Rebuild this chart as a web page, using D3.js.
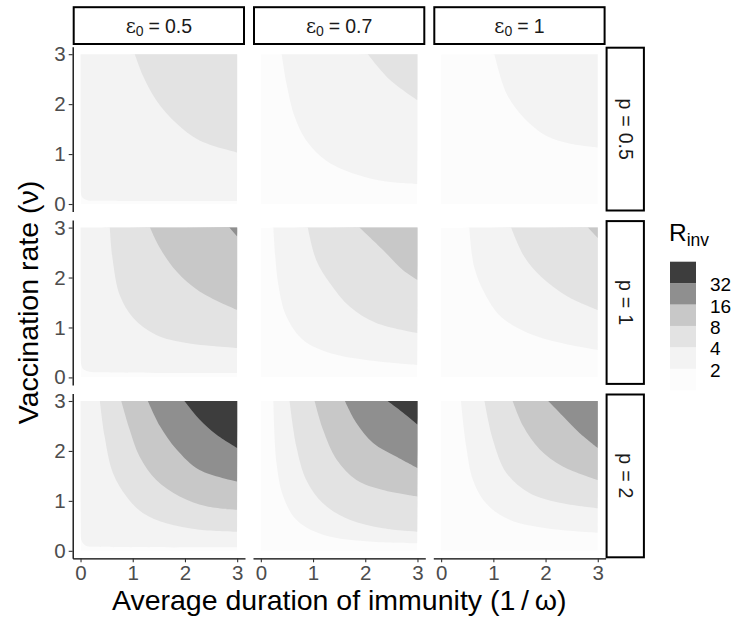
<!DOCTYPE html>
<html><head><meta charset="utf-8">
<script src="https://cdn.jsdelivr.net/npm/d3@7"></script>
<style>
html,body{margin:0;padding:0;background:#fff;}
text{font-family:"Liberation Sans",Arial,Helvetica,sans-serif;}
</style></head>
<body><svg id="chart" width="736" height="624"></svg>
<script>
// ---- data ----
const levels = [2, 4, 8, 16, 32];
const bandColors = ["#fcfcfc", "#f3f3f3", "#e3e3e3", "#c8c8c8", "#8f8f8f", "#3d3d3d"];
const epsLabels = ["0.5", "0.7", "1"];
const pLabels = ["0.5", "1", "2"];
const xTicks = [0, 1, 2, 3];
const yTicks = [0, 1, 2, 3];
const xDomain = [0, 3];
const yDomain = [0, 3];

// contour boundaries: [level, [[x, y], ...]]
const c_p05_e05 = [
  [2, [[0,0.28],[0.03,0.14],[0.12,0.08],[0.5,0.065],[3,0.06]]],
  [4, [[1.04,3],[1.2,2.56],[1.45,2.08],[1.84,1.61],[2.28,1.27],[3,1.03]]]
];
const c_p05_e07 = [
  [2, [[0.40,3],[0.49,2.42],[0.65,1.74],[0.87,1.27],[1.26,0.86],[1.83,0.59],[2.40,0.45],[3,0.40]]],
  [4, [[2.05,3],[2.47,2.49],[3,2.08]]]
];
const c_p05_e1 = [
  [2, [[1.02,3],[1.25,2.22],[1.57,1.74],[2.02,1.36],[2.46,1.21],[3,1.13]]]
];
const c_p1_e05 = [
  [2, [[0,0.35],[0.04,0.18],[0.15,0.12],[0.6,0.1],[3,0.09]]],
  [4, [[0.56,3],[0.62,2.32],[0.75,1.65],[1.01,1.19],[1.45,0.85],[2.03,0.69],[3,0.59]]],
  [8, [[1.33,3],[1.52,2.59],[1.84,2.12],[2.28,1.72],[3,1.35]]],
  [16, [[2.85,3],[3,2.82]]]
];
const c_p1_e07 = [
  [2, [[0.24,3],[0.33,1.89],[0.49,1.22],[0.81,0.75],[1.32,0.49],[2.02,0.35],[3,0.25]]],
  [4, [[0.90,3],[1.06,2.35],[1.32,1.89],[1.70,1.42],[2.21,1.09],[3,0.89]]],
  [8, [[1.89,3],[2.34,2.55],[2.72,2.15],[3,1.95]]]
];
const c_p1_e1 = [
  [2, [[0.54,3],[0.63,2.22],[0.83,1.69],[1.14,1.22],[1.66,0.89],[2.30,0.69],[3,0.55]]],
  [4, [[1.34,3],[1.59,2.42],[1.91,2.02],[2.42,1.62],[3,1.35]]],
  [8, [[2.81,3],[3,2.79]]]
];
const c_p2_e05 = [
  [2, [[0,0.3],[0.02,0.2],[0.1,0.1],[0.3,0.08],[3,0.07]]],
  [4, [[0.37,3],[0.46,2.30],[0.62,1.56],[0.88,1.09],[1.20,0.75],[1.64,0.55],[2.28,0.42],[3,0.38]]],
  [8, [[0.78,3],[0.94,2.43],[1.13,1.89],[1.45,1.42],[1.90,1.09],[2.41,0.89],[3,0.82]]],
  [16, [[1.29,3],[1.52,2.50],[1.84,2.03],[2.28,1.62],[3,1.39]]],
  [32, [[1.99,3],[2.28,2.63],[2.60,2.33],[3,2.06]]]
];
const c_p2_e07 = [
  [2, [[0.24,3],[0.30,1.76],[0.43,1.09],[0.68,0.62],[1.19,0.32],[2.15,0.18],[3,0.15]]],
  [4, [[0.55,3],[0.68,2.09],[0.87,1.42],[1.19,0.95],[1.70,0.62],[2.34,0.45],[3,0.38]]],
  [8, [[1.03,3],[1.19,2.43],[1.45,1.83],[1.83,1.42],[2.34,1.22],[3,1.09]]],
  [16, [[1.61,3],[1.83,2.56],[2.15,2.16],[2.59,1.89],[3,1.66]]],
  [32, [[2.43,3],[2.72,2.77],[3,2.53]]]
];
const c_p2_e1 = [
  [2, [[0.38,3],[0.48,2.09],[0.61,1.42],[0.86,0.95],[1.31,0.62],[2.02,0.45],[3,0.36]]],
  [4, [[0.83,3],[0.99,2.23],[1.25,1.56],[1.69,1.16],[2.33,0.95],[3,0.85]]],
  [8, [[1.37,3],[1.57,2.50],[1.89,2.03],[2.33,1.69],[3,1.42]]],
  [16, [[2.05,3],[2.33,2.70],[2.65,2.36],[3,2.06]]]
];
const panelContours = [
  [c_p05_e05, c_p05_e07, c_p05_e1],
  [c_p1_e05, c_p1_e07, c_p1_e1],
  [c_p2_e05, c_p2_e07, c_p2_e1]
];

// ---- layout ----
const L = {left: 72.7, top: 46.7, W: 172.3, H: 164.8, gx: 8, gy: 8.6};
const svg = d3.select("#chart");
const ext = (d) => [d[0] - (d[1]-d[0])*0.05, d[1] + (d[1]-d[0])*0.05];
const FONT = "'Liberation Sans', Arial, sans-serif";

const colorOf = d3.scaleThreshold().domain(levels).range(bandColors);

pLabels.forEach((pl, r) => {
  epsLabels.forEach((el, c) => {
    const x0 = L.left + c*(L.W + L.gx);
    const y0 = L.top + r*(L.H + L.gy);
    const xs = d3.scaleLinear().domain(ext(xDomain)).range([x0, x0 + L.W]);
    const ys = d3.scaleLinear().domain(ext(yDomain)).range([y0 + L.H, y0]);
    const g = svg.append("g");
    const clipId = `clip${r}${c}`;
    svg.append("clipPath").attr("id", clipId).append("rect")
      .attr("x", xs(xDomain[0])).attr("y", ys(yDomain[1]))
      .attr("width", xs(xDomain[1]) - xs(xDomain[0]))
      .attr("height", ys(yDomain[0]) - ys(yDomain[1]));
    const pg = g.append("g").attr("clip-path", `url(#${clipId})`);
    pg.append("rect")
      .attr("x", xs(xDomain[0])).attr("y", ys(yDomain[1]))
      .attr("width", xs(xDomain[1]) - xs(xDomain[0]))
      .attr("height", ys(yDomain[0]) - ys(yDomain[1]))
      .attr("fill", colorOf(levels[0] - 1));
    const line = d3.line().x(d => xs(d[0])).y(d => ys(d[1])).curve(d3.curveCatmullRom.alpha(0.5));
    panelContours[r][c].forEach(([lev, pts]) => {
      const dpath = line(pts) + `L${xs(xDomain[1]) + 2},${ys(yDomain[1]) - 2}L${xs(xDomain[0]) - 2},${ys(yDomain[1]) - 2}Z`;
      pg.append("path").attr("d", dpath).attr("fill", colorOf(lev)).attr("stroke", "none");
    });

    // y axis on first column
    if (c === 0) {
      const ay = g.append("g").attr("transform", `translate(${x0},0)`)
        .call(d3.axisLeft(ys).tickValues(yTicks).tickFormat(d3.format("d")).tickSize(4).tickSizeOuter(0).tickPadding(3));
      ay.select(".domain").attr("stroke", "#000").attr("stroke-width", 1.3);
      ay.selectAll(".tick line").attr("stroke", "#333").attr("stroke-width", 1.1);
      ay.selectAll(".tick text").attr("fill", "#4d4d4d").attr("font-size", 20.5).style("font-family", FONT);
    }
    // x axis on last row
    if (r === pLabels.length - 1) {
      const ax = g.append("g").attr("transform", `translate(0,${y0 + L.H})`)
        .call(d3.axisBottom(xs).tickValues(xTicks).tickFormat(d3.format("d")).tickSize(4).tickSizeOuter(0).tickPadding(3));
      ax.select(".domain").attr("stroke", "#000").attr("stroke-width", 1.3);
      ax.selectAll(".tick line").attr("stroke", "#333").attr("stroke-width", 1.1);
      ax.selectAll(".tick text").attr("fill", "#4d4d4d").attr("font-size", 20.5).style("font-family", FONT);
    }
    // top strips
    if (r === 0) {
      svg.append("rect").attr("x", x0 + 1).attr("y", 7.2).attr("width", L.W - 2).attr("height", 36.8)
        .attr("fill", "#fff").attr("stroke", "#000").attr("stroke-width", 2);
      const t = svg.append("text").attr("x", x0 + L.W/2).attr("y", 25.6)
        .attr("text-anchor", "middle").attr("dominant-baseline", "central")
        .attr("font-size", 19.5).attr("fill", "#1a1a1a");
      t.append("tspan").text("ε").style("font-family", "'DejaVu Serif', serif").attr("font-size", 19.5);
      t.append("tspan").text("0").attr("font-size", 14).attr("dy", 5);
      t.append("tspan").text("=").attr("dy", -5).attr("dx", 5);
      t.append("tspan").text(el).attr("dx", 5);
    }
    // right strips
    if (c === epsLabels.length - 1) {
      const sx = x0 + L.W;
      svg.append("rect").attr("x", sx + 1).attr("y", y0 + 1).attr("width", 37.3).attr("height", L.H - 2)
        .attr("fill", "#fff").attr("stroke", "#000").attr("stroke-width", 2);
      const rt = svg.append("text").attr("transform", `translate(${sx + 20},${y0 + L.H/2}) rotate(90)`)
        .attr("text-anchor", "middle").attr("dominant-baseline", "central")
        .attr("font-size", 19.5).attr("fill", "#1a1a1a");
      rt.append("tspan").text("p");
      rt.append("tspan").text("=").attr("dx", 6);
      rt.append("tspan").text(pl).attr("dx", 6);
    }
  });
});

// axis titles
const gridW = 3*L.W + 2*L.gx, gridH = 3*L.H + 2*L.gy;
svg.append("text").attr("x", L.left + gridW/2).attr("y", 610)
  .attr("text-anchor", "middle").attr("font-size", 28.5).attr("fill", "#000")
  .text("Average duration of immunity (1\u2009/\u2009ω)");
svg.append("text").attr("transform", `translate(38,${L.top + gridH/2}) rotate(-90)`)
  .attr("text-anchor", "middle").attr("font-size", 28.5).attr("fill", "#000")
  .text("Vaccination rate (ν)");

// legend
const lg = svg.append("g");
const lt = lg.append("text").attr("x", 669).attr("y", 241).attr("font-size", 24.5).attr("fill", "#000");
lt.append("tspan").text("R");
lt.append("tspan").text("inv").attr("font-size", 17.5).attr("dy", 5);
const keyH = 21.4, keyTop = 261.7;
const legendColors = bandColors.slice().reverse();
const ly = d3.scaleLinear().domain([0, legendColors.length]).range([keyTop, keyTop + keyH*legendColors.length]);
lg.selectAll("rect.key").data(legendColors).enter().append("rect")
  .attr("x", 670).attr("y", (d, i) => ly(i)).attr("width", 26).attr("height", keyH + 0.3)
  .attr("fill", d => d);
const legendLabels = levels.slice().reverse();
lg.selectAll("text.lab").data(legendLabels).enter().append("text")
  .attr("x", 710).attr("y", (d, i) => ly(i + 1) + 1.5).attr("dominant-baseline", "central")
  .attr("font-size", 19).attr("fill", "#000").text(d => d);
</script></body></html>
